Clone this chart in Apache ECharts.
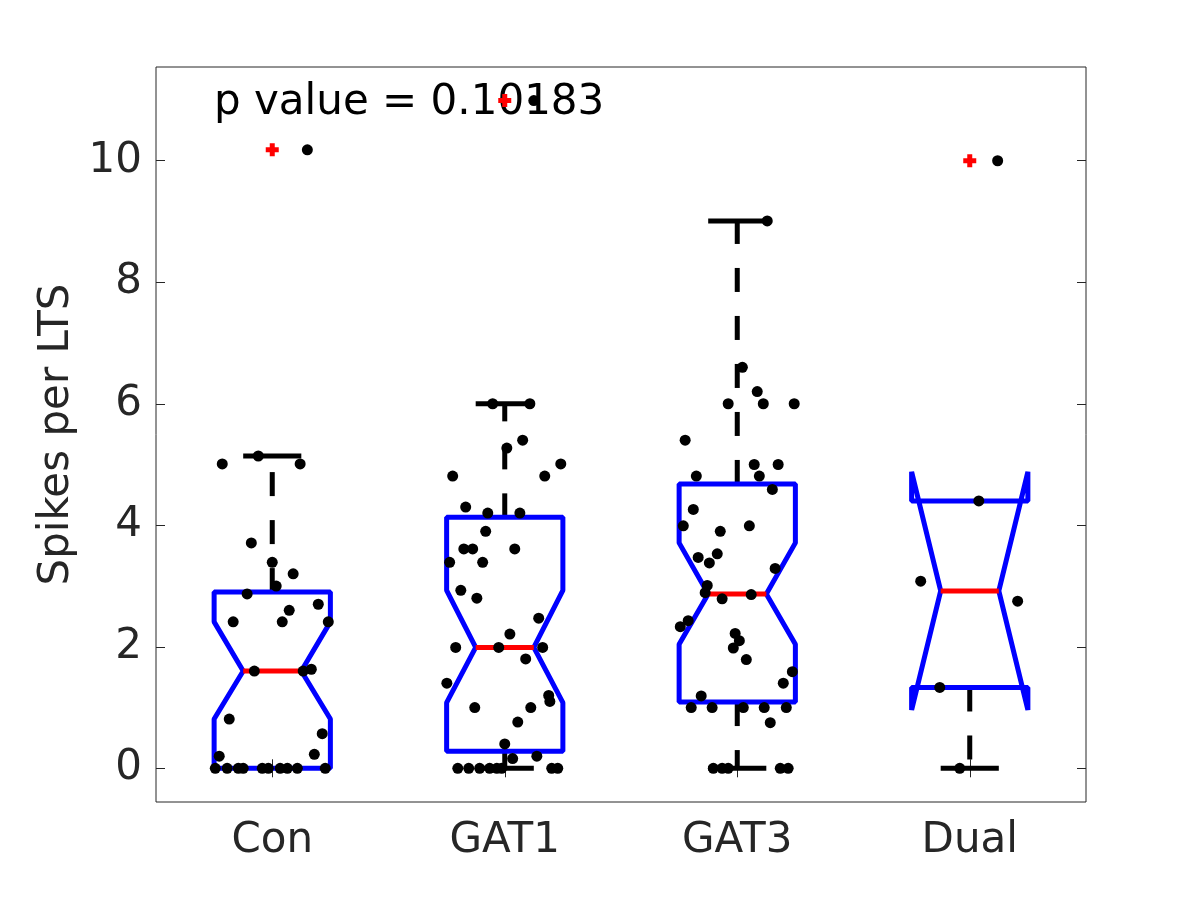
<!DOCTYPE html>
<html>
<head>
<meta charset="utf-8">
<script src="https://cdn.jsdelivr.net/npm/echarts@6/dist/echarts.min.js"></script>
<style>
html,body{margin:0;padding:0;background:#fff;}
#chart{width:1200px;height:900px;}
</style>
</head>
<body>
<div id="chart"></div>
<script>
// ---------------- data ----------------
const categories = ['Con', 'GAT1', 'GAT3', 'Dual'];
const yTickValues = [0, 2, 4, 6, 8, 10];
const pValueText = 'p value = 0.10183';

// individual points (value) and their horizontal jitter (category units)
const conValues = [10.18, 5.01, 5.14, 5.01, 3.71, 3.39, 3.20, 3.00, 2.87, 2.70, 2.60, 2.41, 2.41, 2.41, 1.60, 1.60, 1.63, 0.81, 0.57, 0.20, 0.23, 0, 0, 0, 0, 0, 0, 0, 0, 0, 0];
const conJitter = [0.151, -0.215, -0.060, 0.120, -0.090, 0.000, 0.090, 0.017, -0.108, 0.198, 0.073, -0.168, 0.043, 0.241, -0.077, 0.133, 0.168, -0.185, 0.215, -0.228, 0.181, -0.245, -0.194, -0.146, -0.125, -0.043, -0.017, 0.034, 0.065, 0.108, 0.228];

const gat1Values = [10.99, 6.0, 6.0, 5.40, 5.27, 5.01, 4.81, 4.81, 4.30, 4.20, 4.20, 3.90, 3.61, 3.61, 3.61, 3.39, 3.39, 2.93, 2.80, 2.47, 2.21, 1.99, 1.99, 1.99, 1.80, 1.40, 1.20, 1.10, 1.00, 1.00, 0.76, 0.40, 0.16, 0.20, 0, 0, 0, 0, 0, 0, 0, 0];
const gat1Jitter = [0.125, -0.052, 0.108, 0.077, 0.009, 0.241, -0.224, 0.172, -0.168, -0.073, 0.065, -0.082, -0.176, -0.138, 0.043, -0.237, -0.095, -0.189, -0.120, 0.146, 0.022, -0.211, -0.026, 0.163, 0.090, -0.249, 0.189, 0.194, -0.129, 0.112, 0.056, 0.000, 0.034, 0.138, -0.202, -0.155, -0.108, -0.065, -0.034, -0.013, 0.202, 0.228];

const gat3Values = [9.01, 6.60, 6.20, 6.0, 6.0, 6.0, 5.40, 5.00, 5.00, 4.81, 4.81, 4.59, 4.26, 3.99, 3.99, 3.90, 3.47, 3.53, 3.38, 3.29, 3.01, 2.89, 2.79, 2.86, 2.43, 2.33, 2.22, 2.10, 1.98, 1.79, 1.59, 1.40, 1.19, 1.00, 1.00, 1.00, 1.00, 1.00, 0.75, 0, 0, 0, 0, 0];
const gat3Jitter = [0.129, 0.022, 0.086, -0.039, 0.112, 0.245, -0.224, 0.073, 0.176, -0.176, 0.095, 0.151, -0.189, -0.232, 0.052, -0.073, -0.168, -0.086, -0.120, 0.163, -0.129, -0.138, -0.065, 0.060, -0.211, -0.245, -0.009, 0.009, -0.017, 0.039, 0.237, 0.198, -0.155, -0.198, -0.108, 0.026, 0.116, 0.211, 0.142, -0.103, -0.065, -0.039, 0.185, 0.219];

const dualValues = [10.0, 4.40, 3.08, 2.75, 1.33, 0];
const dualJitter = [0.120, 0.039, -0.211, 0.206, -0.129, -0.043];

// box statistics per group
const boxQ1 = [0, 0.28, 1.09, 1.33];
const boxQ3 = [2.90, 4.13, 4.68, 4.40];
const boxMedian = [1.60, 1.99, 2.87, 2.92];
const notchLow = [0.81, 1.08, 2.04, 0.96];
const notchHigh = [2.41, 2.93, 3.71, 4.88];
const whiskerLow = [0, 0, 0, 0];
const whiskerHigh = [5.14, 6.0, 9.01, 4.40];
const outliers = [[10.18], [10.99], [], [10.0]];

// ---------------- build ----------------
const groupValues = [conValues, gat1Values, gat3Values, dualValues];
const groupJitter = [conJitter, gat1Jitter, gat3Jitter, dualJitter];

const boxData = categories.map((c, i) => [i + 1, boxQ1[i], notchLow[i], boxMedian[i], notchHigh[i], boxQ3[i], whiskerLow[i], whiskerHigh[i]]);
const dotData = [];
groupValues.forEach((vals, i) => vals.forEach((v, k) => dotData.push([i + 1 + groupJitter[i][k], v])));
const outlierData = [];
outliers.forEach((arr, i) => arr.forEach(v => outlierData.push([i + 1, v])));

const FONT = 'DejaVu Sans';
const AX = '#262626';
const FS = 42;
const HALF = 0.25;

function renderBox(params, api) {
  const x = api.value(0);
  const q1 = api.value(1), nLo = api.value(2), med = api.value(3), nHi = api.value(4), q3 = api.value(5);
  const wLo = api.value(6), wHi = api.value(7);
  const c = (a, b) => api.coord([a, b]);
  const pts = [
    c(x - HALF, q1), c(x - HALF, nLo), c(x - HALF / 2, med), c(x - HALF, nHi), c(x - HALF, q3),
    c(x + HALF, q3), c(x + HALF, nHi), c(x + HALF / 2, med), c(x + HALF, nLo), c(x + HALF, q1)
  ];
  const children = [];
  const dash = { stroke: '#000', lineWidth: 5, lineDash: [24, 24] };
  const cap = { stroke: '#000', lineWidth: 5 };
  if (wHi > q3) {
    const a = c(x, q3), b = c(x, wHi);
    children.push({ type: 'line', shape: { x1: a[0], y1: a[1], x2: b[0], y2: b[1] }, style: dash });
    const l = c(x - HALF / 2, wHi), r = c(x + HALF / 2, wHi);
    children.push({ type: 'line', shape: { x1: l[0], y1: l[1], x2: r[0], y2: r[1] }, style: cap });
  }
  if (wLo < q1) {
    const a = c(x, q1), b = c(x, wLo);
    children.push({ type: 'line', shape: { x1: a[0], y1: a[1], x2: b[0], y2: b[1] }, style: dash });
    const l = c(x - HALF / 2, wLo), r = c(x + HALF / 2, wLo);
    children.push({ type: 'line', shape: { x1: l[0], y1: l[1], x2: r[0], y2: r[1] }, style: cap });
  }
  children.push({ type: 'polygon', shape: { points: pts }, style: { stroke: '#0000ff', lineWidth: 5, fill: null, lineJoin: 'bevel' } });
  const ml = c(x - HALF / 2, med), mr = c(x + HALF / 2, med);
  children.push({ type: 'line', shape: { x1: ml[0], y1: ml[1], x2: mr[0], y2: mr[1] }, style: { stroke: '#ff0000', lineWidth: 5 } });
  return { type: 'group', children: children };
}

const chart = echarts.init(document.getElementById('chart'), null, { renderer: 'canvas' });
const option = {
  animation: false,
  backgroundColor: '#ffffff',
  textStyle: { fontFamily: FONT },
  grid: { left: 156, top: 67, right: 114, bottom: 98, show: true, borderColor: AX, borderWidth: 1, backgroundColor: '#fff', containLabel: false },
  xAxis: [
    { type: 'category', data: categories, position: 'bottom', boundaryGap: true,
      axisLine: { show: false }, splitLine: { show: false },
      axisTick: { show: true, inside: true, alignWithLabel: true, length: 9, lineStyle: { color: AX, width: 1 } },
      axisLabel: { color: AX, fontSize: FS, fontFamily: FONT, margin: 18 } },
    { type: 'category', data: categories, position: 'top', boundaryGap: true,
      axisLine: { show: false }, splitLine: { show: false },
      axisTick: { show: true, inside: true, alignWithLabel: true, length: 9, lineStyle: { color: AX, width: 1 } },
      axisLabel: { show: false } },
    { type: 'value', min: 0.5, max: 4.5, show: false, splitLine: { show: false } }
  ],
  yAxis: [
    { type: 'value', min: -0.555, max: 11.543, position: 'left',
      name: 'Spikes per LTS', nameLocation: 'middle', nameGap: 75,
      nameTextStyle: { color: AX, fontSize: FS, fontFamily: FONT },
      axisLine: { show: false }, splitLine: { show: false },
      axisTick: { show: true, inside: true, length: 9, customValues: yTickValues, lineStyle: { color: AX, width: 1 } },
      axisLabel: { color: AX, fontSize: FS, fontFamily: FONT, margin: 14, customValues: yTickValues } },
    { type: 'value', min: -0.555, max: 11.543, position: 'right',
      axisLine: { show: false }, splitLine: { show: false },
      axisTick: { show: true, inside: true, length: 9, customValues: yTickValues, lineStyle: { color: AX, width: 1 } },
      axisLabel: { show: false } }
  ],
  graphic: [
    { type: 'text', z: 0, zlevel: 0, x: 214, y: 103,
      style: { text: pValueText, font: FS + 'px "DejaVu Sans"', fill: '#000', textAlign: 'left', textVerticalAlign: 'middle' } }
  ],
  series: [
    { type: 'custom', xAxisIndex: 2, yAxisIndex: 0, renderItem: renderBox, data: boxData, z: 3, clip: false },
    { type: 'scatter', xAxisIndex: 2, yAxisIndex: 0, data: outlierData, z: 4,
      symbol: 'path://M4,0H9V4H13V9H9V13H4V9H0V4H4Z', symbolSize: 13, itemStyle: { color: '#ff0000', opacity: 1 } },
    { type: 'scatter', xAxisIndex: 2, yAxisIndex: 0, data: dotData, z: 5,
      symbol: 'circle', symbolSize: 11, itemStyle: { color: '#000000', opacity: 1 } }
  ]
};
chart.setOption(option);
</script>
</body>
</html>
